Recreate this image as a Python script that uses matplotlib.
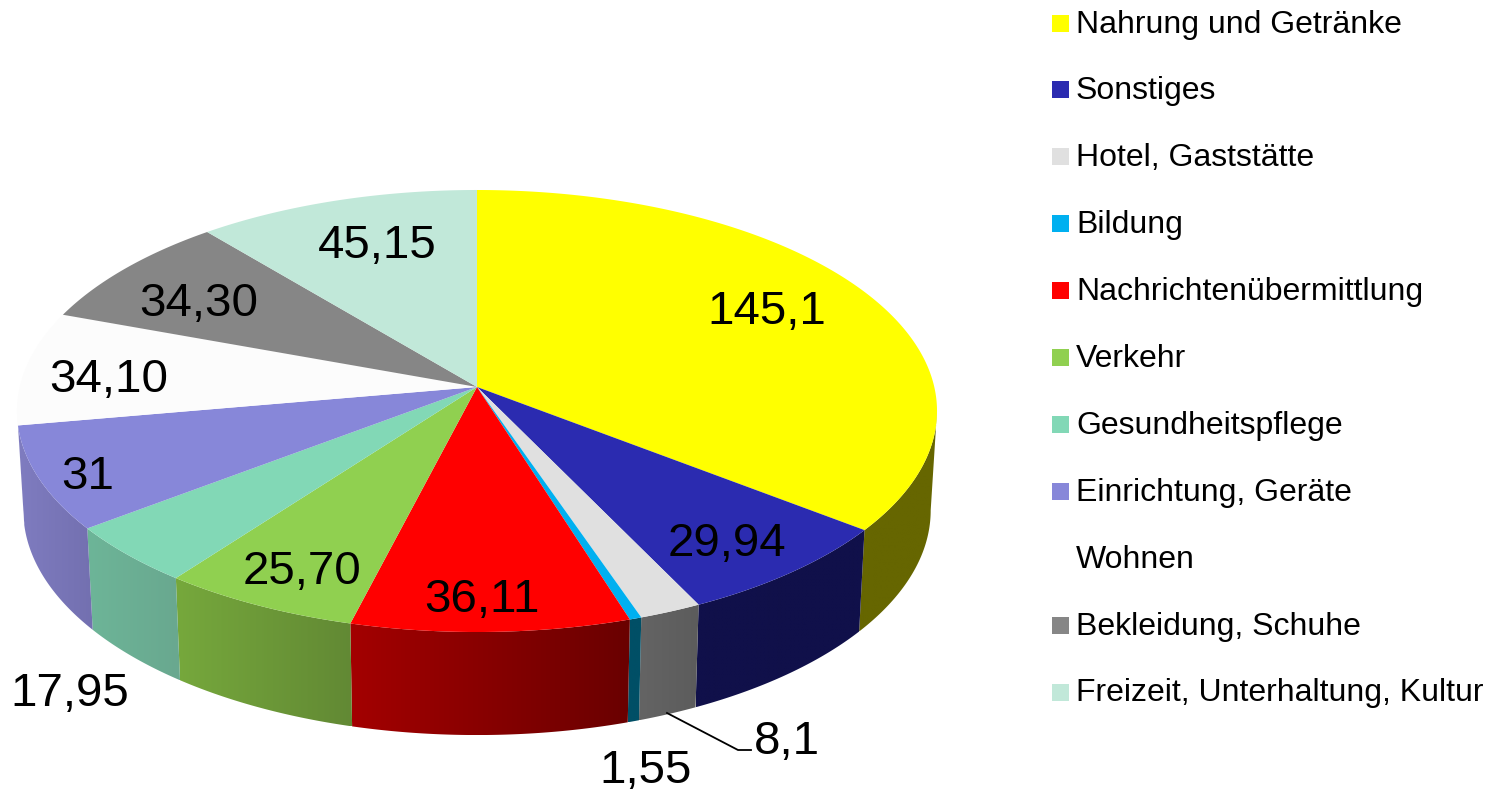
import numpy as np
import matplotlib
matplotlib.use('Agg')
import matplotlib.pyplot as plt
from matplotlib.patches import Polygon, Rectangle

plt.rcParams['font.family'] = ['Liberation Sans', 'DejaVu Sans']

categories = ['Nahrung und Getränke', 'Sonstiges', 'Hotel, Gaststätte', 'Bildung',
              'Nachrichtenübermittlung', 'Verkehr', 'Gesundheitspflege',
              'Einrichtung, Geräte', 'Wohnen', 'Bekleidung, Schuhe',
              'Freizeit, Unterhaltung, Kultur']
values = [145.1, 29.94, 8.1, 1.55, 36.11, 25.70, 17.95, 31, 34.10, 34.30, 45.15]
value_labels = ['145,1', '29,94', '8,1', '1,55', '36,11', '25,70', '17,95', '31', '34,10', '34,30', '45,15']

top_colors = ['#ffff00', '#2b2bb0', '#e0e0e0', '#00b0f0', '#ff0000', '#90d050',
              '#82d8b6', '#8787d9', '#fcfcfc', '#868686', '#c1e8d9']
legend_colors = top_colors[:8] + ['#ffffff'] + top_colors[9:]
side_left = ['#666600', '#10104a', '#646464', '#004f66', '#a30000', '#76a83c',
             '#6db598', '#7f7cc0', '#fcfcfc', '#555555', '#7a9488']
side_right = ['#666600', '#10104a', '#5c5c5c', '#004f66', '#6a0000', '#628934',
              '#69a88f', '#7370b0', '#fcfcfc', '#555555', '#7a9488']

# pixel positions of the labels
label_pos = [(767, 307), (727, 539), (787, 737), (646, 766), (482, 595), (302, 567),
             (70, 689), (88, 472), (109, 375), (199, 299), (377, 241)]

CX, CY, RX, RY, K = 477, 387, 457.3, 218.4, 0.1086
CX2, CY2, RX2, RY2 = 477, 486, 451, 222


def project(ang, cx, cy, rx, ry):
    # ang in radians clockwise from the top, perspective on the disk
    X, Y = np.sin(ang), np.cos(ang)
    w = 1 + K * Y
    return cx + rx * X / w, cy - ry * Y / w


fig = plt.figure(figsize=(15.01, 7.91), dpi=100)
ax = fig.add_axes([0, 0, 1, 1])

total = sum(values)
edges = np.concatenate([[0], np.cumsum(values)]) / total * 2 * np.pi

# rim is only seen between the two tangent points of the ellipse
vis0 = np.arccos(-K)
vis1 = 2 * np.pi - vis0
for i in range(len(values)):
    a0, a1 = max(edges[i], vis0), min(edges[i + 1], vis1)
    if a1 <= a0:
        continue
    a = np.linspace(a0, a1, 120)
    x1, y1 = project(a, CX, CY, RX, RY)
    x2, y2 = project(a, CX2, CY2, RX2, RY2)
    pts = np.vstack([np.column_stack([x1, y1]), np.column_stack([x2, y2])[::-1]])
    poly = Polygon(pts, closed=True, facecolor='none', edgecolor='none')
    ax.add_patch(poly)
    c0 = np.array(matplotlib.colors.to_rgb(side_left[i]))
    c1 = np.array(matplotlib.colors.to_rgb(side_right[i]))
    t = np.linspace(0, 1, 64)[None, :, None]
    grad = c0[None, None, :] * (1 - t) + c1[None, None, :] * t
    im = ax.imshow(grad, extent=[pts[:, 0].min(), pts[:, 0].max(), pts[:, 1].max(), pts[:, 1].min()],
                   aspect='auto', interpolation='bilinear', zorder=1)
    im.set_clip_path(poly)

# top face
for i in range(len(values)):
    a = np.linspace(edges[i], edges[i + 1], 200)
    x, y = project(a, CX, CY, RX, RY)
    pts = np.vstack([[CX, CY], np.column_stack([x, y])])
    ax.add_patch(Polygon(pts, closed=True, facecolor=top_colors[i], edgecolor='none', zorder=2))

ax.plot([667, 738, 751], [713, 750, 750], color='black', lw=1.3, zorder=3)

for lab, (x, y) in zip(value_labels, label_pos):
    ax.text(x, y, lab, fontsize=34.2, ha='center', va='center_baseline', color='black', zorder=4)

# legend built by hand, fixed pixel rows like the original
for i, name in enumerate(categories):
    yc = 23 + i * 66.9
    ax.add_patch(Rectangle((1052, yc - 8.5), 17, 17, facecolor=legend_colors[i], edgecolor='none', zorder=3))
    ax.text(1076, yc - 2, name, fontsize=23, ha='left', va='center_baseline', color='black')

ax.set_xlim(0, 1501)
ax.set_ylim(791, 0)
ax.axis('off')
fig.savefig('out.png', dpi=100)
